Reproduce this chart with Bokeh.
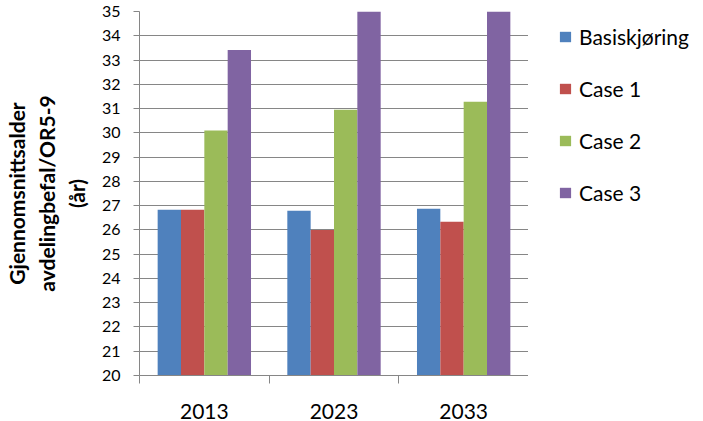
from bokeh.plotting import figure
from bokeh.layouts import row
from bokeh.models import (Range1d, FixedTicker, SingleIntervalTicker, CustomJSTickFormatter,
                          Legend, LegendItem)
from bokeh.embed import file_html
from bokeh.resources import INLINE

years = ["2013", "2023", "2033"]
series = ["Basiskjøring", "Case 1", "Case 2", "Case 3"]
basis = [26.83, 26.79, 26.87]
case1 = [26.83, 26.0, 26.34]
case2 = [30.1, 30.95, 31.28]
case3 = [33.41, 35.0, 35.0]
colors = ["#4F81BD", "#C0504D", "#9BBB59", "#8064A2"]
y_title = ["Gjennomsnittsalder", "avdelingbefal/OR5-9", "(år)"]

values = [basis, case1, case2, case3]
FONT = "Lato"
GRID = "#868686"

p = figure(width=528, height=421, output_backend="svg", toolbar_location=None,
           x_range=Range1d(0, len(years)), y_range=Range1d(20, 35),
           min_border_left=138, min_border_right=0, min_border_top=11, min_border_bottom=43)
p.outline_line_color = None
p.background_fill_color = "white"
p.border_fill_color = "white"

bw = 0.18
for j, (name, vals, c) in enumerate(zip(series, values, colors)):
    xs = [i + 0.5 + (j - 1.5) * bw for i in range(len(years))]
    p.vbar(x=xs, top=vals, bottom=20, width=bw, fill_color=c, line_color=None)

p.xgrid.visible = False
p.ygrid.grid_line_color = GRID
p.ygrid.grid_line_width = 1

xa = p.xaxis[0]
xa.ticker = FixedTicker(ticks=[i + 0.5 for i in range(len(years))],
                        minor_ticks=list(range(len(years) + 1)))
xa.formatter = CustomJSTickFormatter(args=dict(labels=years),
                                     code="return labels[Math.floor(tick)];")
xa.major_tick_line_color = None
xa.major_tick_out = 0
xa.major_tick_in = 0
xa.minor_tick_line_color = GRID
xa.minor_tick_out = 8
xa.minor_tick_in = 0
xa.axis_line_color = GRID
xa.major_label_text_font = FONT
xa.major_label_text_font_size = "21px"
xa.major_label_text_color = "black"
xa.major_label_standoff = 20

ya = p.yaxis[0]
ya.ticker = SingleIntervalTicker(interval=1, num_minor_ticks=0)
ya.axis_line_color = GRID
ya.major_tick_line_color = GRID
ya.major_tick_out = 6
ya.major_tick_in = 0
ya.minor_tick_line_color = None
ya.major_label_text_font = FONT
ya.major_label_text_font_size = "16px"
ya.major_label_text_color = "black"
ya.major_label_standoff = 13
ya.axis_label = "\n".join(y_title)
ya.axis_label_text_font = FONT
ya.axis_label_text_font_style = "bold"
ya.axis_label_text_font_size = "21px"
ya.axis_label_text_color = "black"
ya.axis_label_standoff = 10
ya.axis_label_text_align = "center"

# legend panel (separate canvas to the right of the plot)
q = figure(width=175, height=421, output_backend="svg", toolbar_location=None,
           x_range=Range1d(0, 1), y_range=Range1d(0, 1),
           min_border_left=0, min_border_right=0, min_border_top=0, min_border_bottom=0)
q.axis.visible = False
q.grid.visible = False
q.outline_line_color = None
q.background_fill_color = "white"
q.border_fill_color = "white"
leg_r = []
for name, c in zip(series, colors):
    # zero-size placeholder glyph: only its legend swatch is shown
    leg_r.append(q.vbar(x=[0.5], top=[0], bottom=[0], width=0, fill_color=c, line_color=None))

legend = Legend(items=[LegendItem(label=s, renderers=[r]) for s, r in zip(series, leg_r)],
                location=(30, 170))
legend.label_text_font = FONT
legend.label_text_font_size = "21px"
legend.label_text_color = "black"
legend.glyph_width = 14
legend.glyph_height = 13
legend.label_height = 20
legend.spacing = 27
legend.label_standoff = 7
legend.padding = 0
legend.margin = 0
legend.border_line_color = None
legend.background_fill_alpha = 0
q.add_layout(legend, "center")

layout = row(p, q, spacing=0)
open("out.html", "w").write(file_html(layout, INLINE))
